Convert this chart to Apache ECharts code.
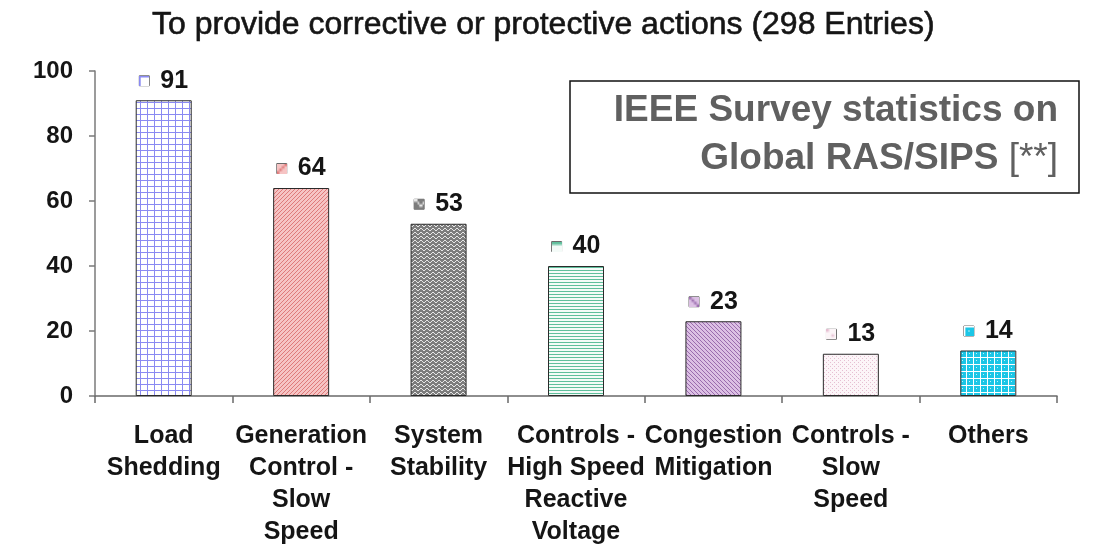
<!DOCTYPE html>
<html>
<head>
<meta charset="utf-8">
<script src="https://cdn.jsdelivr.net/npm/echarts@6/dist/echarts.min.js"></script>
<style>
  html, body { margin: 0; padding: 0; background: #ffffff; }
  #chart { width: 1104px; height: 548px; }
</style>
</head>
<body>
<div id="chart"></div>
<script>
// RAS/SIPS purpose counts (298 entries in total)
const categories = [
  'Load\nShedding',
  'Generation\nControl -\nSlow\nSpeed',
  'System\nStability',
  'Controls -\nHigh Speed\nReactive\nVoltage',
  'Congestion\nMitigation',
  'Controls -\nSlow\nSpeed',
  'Others'
];
const counts = [91, 64, 53, 40, 23, 13, 14];
const yTicks = [0, 20, 40, 60, 80, 100];

const FONT = '"Liberation Sans", Arial, sans-serif';

// --- fill patterns drawn onto small tiles ---
function tile(w, h, draw) {
  const c = document.createElement('canvas');
  c.width = w; c.height = h;
  const g = c.getContext('2d');
  draw(g, w, h);
  return c;
}
const patterns = [
  // blue grid on white
  tile(7, 6, (g, w, h) => {
    g.fillStyle = '#ffffff'; g.fillRect(0, 0, w, h);
    g.fillStyle = '#8a8af2'; g.fillRect(0, 0, w, 1); g.fillRect(0, 0, 1, h);
  }),
  // pink diagonal hatch
  tile(4, 4, (g, w, h) => {
    g.fillStyle = '#f6c4c4'; g.fillRect(0, 0, w, h);
    g.fillStyle = '#de7a7a';
    for (let i = 0; i < 4; i++) g.fillRect((3 - i), i, 1, 1);
  }),
  // grey wavy texture
  tile(6, 4, (g, w, h) => {
    g.fillStyle = '#7c7c7c'; g.fillRect(0, 0, w, h);
    g.fillStyle = '#e6e6e6';
    g.fillRect(0, 0, 2, 1); g.fillRect(2, 1, 1, 1); g.fillRect(3, 2, 2, 1); g.fillRect(5, 1, 1, 1);
  }),
  // green horizontal lines
  tile(4, 3, (g, w, h) => {
    g.fillStyle = '#f4fbf8'; g.fillRect(0, 0, w, h);
    g.fillStyle = '#5fbf9c'; g.fillRect(0, 0, w, 1);
  }),
  // purple diagonal hatch
  tile(4, 4, (g, w, h) => {
    g.fillStyle = '#dcc0e4'; g.fillRect(0, 0, w, h);
    g.fillStyle = '#9a6cae';
    for (let i = 0; i < 4; i++) g.fillRect(i, i, 1, 1);
  }),
  // faint pink dots
  tile(4, 4, (g, w, h) => {
    g.fillStyle = '#fcf5f8'; g.fillRect(0, 0, w, h);
    g.fillStyle = '#e6bfd2';
    g.fillRect(0, 0, 1, 1); g.fillRect(2, 2, 1, 1);
  }),
  // cyan blocks with white grid
  tile(7, 7, (g, w, h) => {
    g.fillStyle = '#1cc6e6'; g.fillRect(0, 0, w, h);
    g.fillStyle = '#ffffff'; g.fillRect(0, 0, w, 1); g.fillRect(0, 0, 1, h);
    g.fillStyle = '#bff0fa'; g.fillRect(3, 3, 1, 1);
  })
];

const seriesData = counts.map((v, i) => ({
  value: v,
  itemStyle: {
    color: { image: patterns[i], repeat: 'repeat' },
    borderColor: '#2a2a2a',
    borderWidth: 1
  },
  label: {
    show: true,
    position: 'top',
    distance: 7,
    formatter: '{k|}{s|}{v|{c}}',
    rich: {
      k: {
        width: 10, height: 10,
        borderColor: '#6a6a6a', borderWidth: 1,
        backgroundColor: { image: patterns[i] }
      },
      s: { width: 11 },
      v: {
        fontFamily: FONT, fontSize: 25, fontWeight: 'bold', color: '#151515'
      }
    }
  }
}));

const chart = echarts.init(document.getElementById('chart'), null, { renderer: 'canvas' });
chart.setOption({
  backgroundColor: '#ffffff',
  animation: false,
  title: {
    text: 'To provide corrective or protective actions (298 Entries)',
    left: 152, top: 9, padding: 0,
    textStyle: {
      fontFamily: FONT, fontSize: 32, fontWeight: 'normal', color: '#151515',
      textBorderColor: '#151515', textBorderWidth: 0.6
    }
  },
  grid: { left: 95, right: 47, top: 71, bottom: 151 },
  xAxis: {
    type: 'category',
    data: categories,
    axisLine: { lineStyle: { color: '#6a6a6a', width: 1.5 } },
    axisTick: { show: true, length: 7, lineStyle: { color: '#6a6a6a', width: 1.5 } },
    axisLabel: {
      interval: 0, margin: 24,
      fontFamily: FONT, fontSize: 25, fontWeight: 'bold', color: '#151515',
      lineHeight: 32, align: 'center'
    }
  },
  yAxis: {
    type: 'value',
    min: yTicks[0], max: yTicks[yTicks.length - 1], interval: 20,
    splitLine: { show: false },
    axisLine: { show: true, lineStyle: { color: '#7a7a7a', width: 1.5 } },
    axisTick: { show: true, length: 6, lineStyle: { color: '#7a7a7a', width: 1.5 } },
    axisLabel: {
      margin: 22,
      fontFamily: FONT, fontSize: 24, fontWeight: 'bold', color: '#151515'
    }
  },
  series: [{
    type: 'bar',
    data: seriesData,
    barWidth: 56
  }],
  graphic: [
    {
      type: 'rect',
      shape: { x: 570, y: 81, width: 509, height: 112 },
      style: { fill: '#ffffff', stroke: '#111111', lineWidth: 1.5 },
      z: 10
    },
    {
      type: 'text',
      x: 1058, y: 111,
      style: {
        text: 'IEEE Survey statistics on',
        fontFamily: FONT, fontSize: 37, fontWeight: 'bold', fill: '#606060',
        align: 'right', verticalAlign: 'middle'
      },
      z: 11
    },
    {
      type: 'text',
      x: 1058, y: 159,
      style: {
        text: '{b|Global RAS/SIPS }{r|[**]}',
        align: 'right', verticalAlign: 'middle',
        rich: {
          b: { fontFamily: FONT, fontSize: 37, fontWeight: 'bold', fill: '#606060' },
          r: { fontFamily: FONT, fontSize: 37, fontWeight: 'normal', fill: '#606060' }
        }
      },
      z: 11
    }
  ]
});
</script>
</body>
</html>
